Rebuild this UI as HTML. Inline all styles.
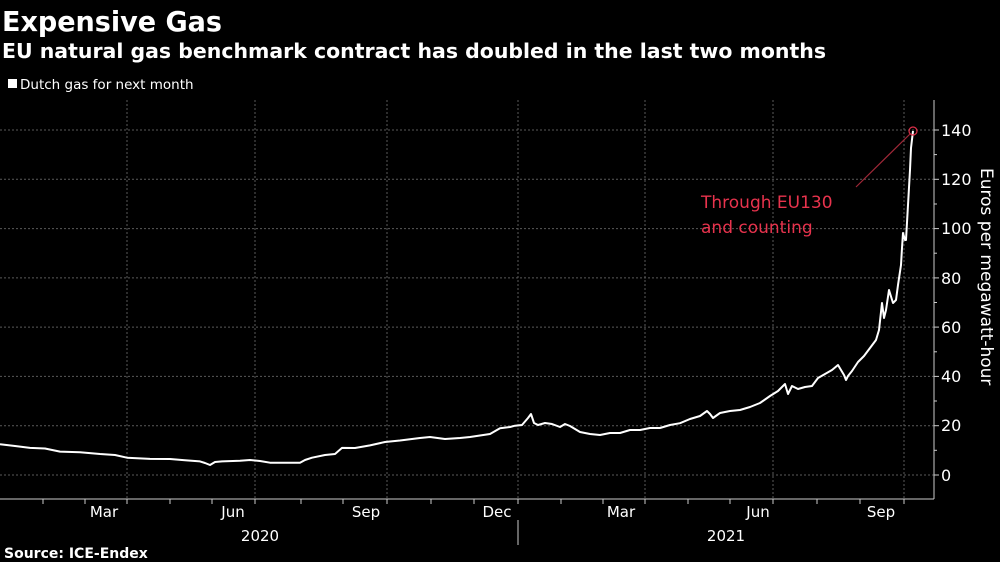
<!DOCTYPE html>
<html><head><style>
html,body{margin:0;padding:0;background:#000;}
svg{display:block;font-family:"DejaVu Sans","Liberation Sans",sans-serif;}
</style></head><body>
<svg width="1000" height="562" viewBox="0 0 1000 562">
<rect width="1000" height="562" fill="#000"/>
<text x="2" y="31" fill="#fff" font-size="28" font-weight="bold" textLength="220" lengthAdjust="spacingAndGlyphs">Expensive Gas</text>
<text x="2" y="58" fill="#fff" font-size="20" font-weight="bold" textLength="824" lengthAdjust="spacingAndGlyphs">EU natural gas benchmark contract has doubled in the last two months</text>
<rect x="8" y="79" width="9" height="9" fill="#fff"/>
<text x="20" y="89" fill="#fff" font-size="13.5">Dutch gas for next month</text>
<g stroke="#5a5a5a" stroke-width="1" stroke-dasharray="2,2">
<line x1="0" x2="934" y1="130" y2="130"/><line x1="0" x2="934" y1="179.3" y2="179.3"/>
<line x1="0" x2="934" y1="228.6" y2="228.6"/><line x1="0" x2="934" y1="277.9" y2="277.9"/>
<line x1="0" x2="934" y1="327.1" y2="327.1"/><line x1="0" x2="934" y1="376.4" y2="376.4"/>
<line x1="0" x2="934" y1="425.7" y2="425.7"/><line x1="0" x2="934" y1="475" y2="475"/>
<line x1="127" x2="127" y1="100" y2="499"/><line x1="255" x2="255" y1="100" y2="499"/>
<line x1="387" x2="387" y1="100" y2="499"/><line x1="518" x2="518" y1="100" y2="499"/>
<line x1="645" x2="645" y1="100" y2="499"/><line x1="773" x2="773" y1="100" y2="499"/>
<line x1="904" x2="904" y1="100" y2="499"/>
</g>
<g stroke="#ccc" stroke-width="1">
<line x1="0" x2="934" y1="499" y2="499"/>
<line x1="934" x2="934" y1="100" y2="499"/>
<line x1="43" x2="43" y1="499" y2="504"/><line x1="85" x2="85" y1="499" y2="504"/><line x1="127" x2="127" y1="499" y2="504"/>
<line x1="170" x2="170" y1="499" y2="504"/><line x1="212" x2="212" y1="499" y2="504"/><line x1="255" x2="255" y1="499" y2="504"/>
<line x1="301" x2="301" y1="499" y2="504"/><line x1="343" x2="343" y1="499" y2="504"/><line x1="387" x2="387" y1="499" y2="504"/>
<line x1="431" x2="431" y1="499" y2="504"/><line x1="474" x2="474" y1="499" y2="504"/><line x1="518" x2="518" y1="499" y2="504"/>
<line x1="561" x2="561" y1="499" y2="504"/><line x1="603" x2="603" y1="499" y2="504"/><line x1="645" x2="645" y1="499" y2="504"/>
<line x1="688" x2="688" y1="499" y2="504"/><line x1="730" x2="730" y1="499" y2="504"/><line x1="773" x2="773" y1="499" y2="504"/>
<line x1="817" x2="817" y1="499" y2="504"/><line x1="860" x2="860" y1="499" y2="504"/><line x1="904" x2="904" y1="499" y2="504"/>
<line x1="518" x2="518" y1="520" y2="545"/>
<line x1="934" x2="939" y1="130" y2="130"/><line x1="934" x2="939" y1="179.3" y2="179.3"/><line x1="934" x2="939" y1="228.6" y2="228.6"/>
<line x1="934" x2="939" y1="277.9" y2="277.9"/><line x1="934" x2="939" y1="327.1" y2="327.1"/><line x1="934" x2="939" y1="376.4" y2="376.4"/>
<line x1="934" x2="939" y1="425.7" y2="425.7"/><line x1="934" x2="939" y1="475" y2="475"/>
<line x1="934" x2="937" y1="154.6" y2="154.6"/><line x1="934" x2="937" y1="204" y2="204"/><line x1="934" x2="937" y1="253.2" y2="253.2"/>
<line x1="934" x2="937" y1="302.5" y2="302.5"/><line x1="934" x2="937" y1="351.8" y2="351.8"/><line x1="934" x2="937" y1="401" y2="401"/>
<line x1="934" x2="937" y1="450.3" y2="450.3"/>
</g>
<g fill="#fff" font-size="16">
<text x="941" y="136">140</text><text x="941" y="185">120</text><text x="941" y="234">100</text>
<text x="941" y="284">80</text><text x="941" y="333">60</text><text x="941" y="382">40</text>
<text x="941" y="431">20</text><text x="941" y="481">0</text>
</g>
<text transform="translate(981,168) rotate(90)" fill="#fff" font-size="17">Euros per megawatt-hour</text>
<g fill="#fff" font-size="15" text-anchor="middle">
<text x="104" y="517">Mar</text><text x="233" y="517">Jun</text><text x="366" y="517">Sep</text>
<text x="497" y="517">Dec</text><text x="621" y="517">Mar</text><text x="758" y="517">Jun</text>
<text x="881" y="517">Sep</text>
<text x="260" y="541">2020</text><text x="726" y="541">2021</text>
</g>
<text x="4" y="558" fill="#fff" font-size="14" font-weight="bold">Source: ICE-Endex</text>
<polyline fill="none" stroke="#fff" stroke-width="2" stroke-linejoin="round" points="
0,444.2 15,446 30,447.9 45,448.5 60,451.6 80,452.2 100,454 115,455 127,457.7 150,458.9 170,459 185,460.2 200,461.4 205,463 210,465 215,462 222,461.4 240,460.8 250,460 260,461 270,462.7 290,462.7 300,462.7 305,460 312,457.7 325,455 335,454 342,447.9 355,448 370,445.4 385,442 400,440.5 420,438 430,437 445,439 460,438 470,437 480,435.5 490,434 500,428.2 510,427 515,425.7 522,425 528,418 531,414 534,423 538,425 545,423 552,424 560,427 565,424 570,426 580,432 590,434 600,435 610,433 620,433 630,430 640,430 650,428 660,428 670,425 680,423.2 690,419 700,416 707,411 710,414 713,418 720,413 730,411 740,410 750,407 760,403 770,396 778,391 782,387 785,384 788,394 792,386 798,389 805,387 812,386 818,378 825,374 832,370 838,365 841,370 844,375 846,380 848,376 852,371 858,362 864,356 870,348 876,340 879,330 882,303 884,318 886,310 889,290 893,303 896,300 898,285 901,265 902,248 903,233 905,240 906,240 908,205 910,170 911,148 913,131"/>
<circle cx="913" cy="131" r="4" fill="none" stroke="#e0304a" stroke-width="1.2"/>
<line x1="910" y1="134" x2="856" y2="187" stroke="#a02838" stroke-width="1.2"/>
<g fill="#e8334d" font-size="17">
<text x="701" y="208">Through EU130</text>
<text x="701" y="233">and counting</text>
</g>
</svg>
</body></html>
